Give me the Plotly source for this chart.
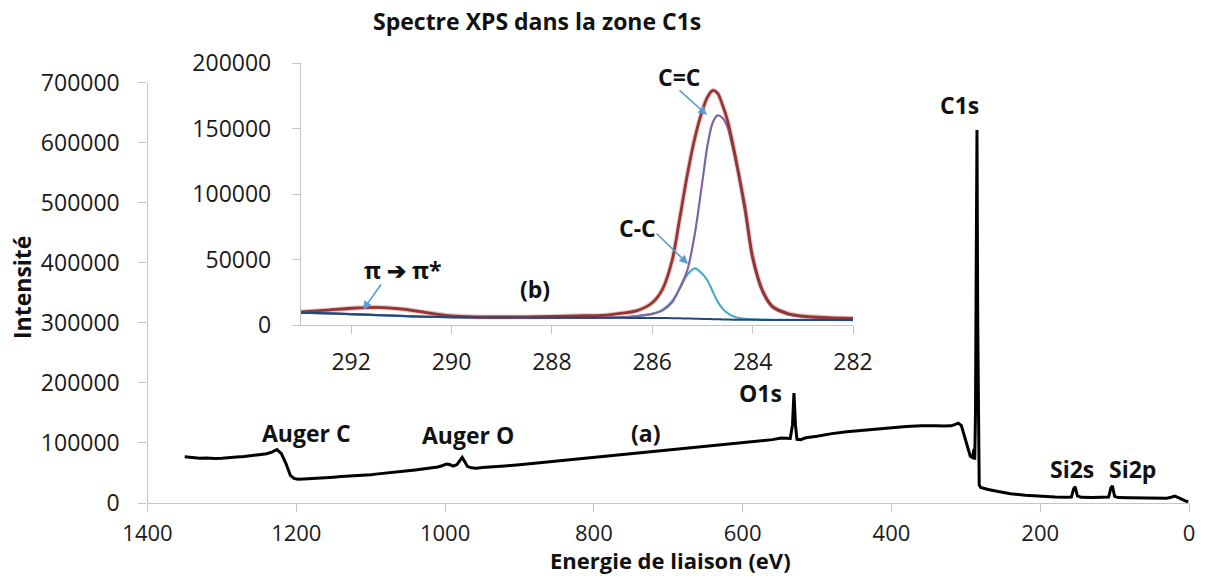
import plotly.graph_objects as go

# ---------------- Main survey spectrum (a) ----------------
survey_energy = [1350, 1340, 1330, 1320, 1310, 1300, 1290, 1280, 1270, 1260, 1250, 1240, 1232, 1226,
                 1220, 1214, 1208, 1203, 1198, 1190, 1180, 1170, 1160, 1150, 1140, 1130, 1120, 1110,
                 1100, 1090, 1080, 1070, 1060, 1050, 1040, 1030, 1020, 1010, 1004, 998, 994, 989, 984,
                 980, 977, 974, 970, 965, 958, 950, 940, 930, 920, 900, 880, 860, 840, 820, 800, 780,
                 760, 740, 720, 700, 680, 660, 640, 620, 600, 580, 560, 548, 541, 536, 533, 531, 529,
                 527, 522, 515, 500, 480, 460, 440, 420, 400, 380, 360, 350, 340, 330, 320, 315, 310,
                 306, 302, 298, 294, 291, 289, 288, 287, 286, 285, 284, 283, 282, 280, 276, 270, 260,
                 250, 240, 220, 200, 180, 165, 158, 155, 153, 150, 145, 130, 115, 108, 105, 103, 100,
                 95, 80, 60, 40, 30, 24, 19, 15, 10, 5, 1]
survey_intensity = [77000, 75500, 74500, 75000, 74000, 74500, 75000, 76500, 77500, 78500, 80500, 82000,
                    85000, 89000, 82000, 66000, 46000, 41000, 39500, 40000, 40500, 41500, 42000, 43000,
                    44000, 44500, 45500, 46500, 47000, 48500, 49500, 51000, 52000, 53500, 55000, 56500,
                    58000, 60000, 62000, 65000, 64000, 61500, 64000, 71000, 76000, 70000, 61000, 58500,
                    58000, 59000, 59500, 60500, 61500, 63500, 66000, 68000, 70500, 72500, 75000, 77500,
                    80000, 82500, 85000, 87500, 90000, 92500, 95500, 98000, 100500, 103000, 105500,
                    108000, 107000, 107500, 130000, 183000, 130000, 106000, 105500, 108500, 111000,
                    115500, 118500, 121000, 123500, 126000, 127500, 128500, 129000, 128500, 128000,
                    128500, 130500, 133000, 129000, 112000, 92000, 78000, 76000, 90000, 72000, 150000,
                    400000, 621000, 300000, 60000, 30000, 26000, 24500, 22500, 20000, 17500, 15500,
                    13000, 11000, 10000, 9500, 10000, 24000, 27000, 12000, 9500, 9200, 9000, 10000,
                    25000, 28500, 11000, 9000, 8800, 8500, 8000, 8000, 9500, 11500, 9500, 6000, 3500,
                    2000]

# ---------------- Inset: C1s high-resolution region (b) ----------------
c1s_energy = [293.0, 292.5, 292.0, 291.5, 291.0, 290.5, 290.0, 289.5, 289.0, 288.5, 288.0, 287.5,
              287.0, 286.6, 286.3, 286.0, 285.8, 285.6, 285.45, 285.3, 285.15, 285.0, 284.9, 284.8,
              284.7, 284.6, 284.5, 284.4, 284.3, 284.15, 284.0, 283.8, 283.6, 283.3, 283.0, 282.5,
              282.0]
c1s_envelope = [10000, 11300, 12800, 13500, 12300, 9500, 7000, 6200, 6100, 6200, 6500, 7000,
                7300, 9000, 11000, 17000, 27000, 50000, 82000, 115000, 143000, 164000, 174000, 179000,
                177000, 168000, 156000, 139000, 120000, 89000, 52000, 26000, 14000, 8800, 6800, 5600,
                5000]
c1s_cc_double = [9400, 8900, 8300, 7600, 6900, 6300, 6000, 5800, 5700, 5650, 5600, 5550,
                 5500, 5800, 6800, 8500, 11000, 17500, 28500, 42000, 70000, 110000, 137000, 154000,
                 160000, 158000, 151000, 136000, 118000, 86000, 50000, 25000, 13200, 8000, 6200, 5200,
                 4600]
c1s_cc_single = [9400, 8900, 8300, 7600, 6900, 6300, 6000, 5800, 5700, 5650, 5600, 5550,
                 5500, 5900, 6800, 8500, 11500, 18500, 28000, 38500, 43300, 39000, 34000, 26000,
                 18000, 12500, 9000, 6800, 5500, 4700, 4300, 4100, 4000, 3900, 3850, 3800,
                 3700]
c1s_background = [9400, 8900, 8300, 7600, 6900, 6300, 6000, 5800, 5700, 5650, 5600, 5550,
                  5500, 5450, 5400, 5350, 5300, 5200, 5100, 4950, 4800, 4650, 4550, 4450,
                  4350, 4250, 4150, 4100, 4050, 4000, 3950, 3900, 3880, 3850, 3820, 3780,
                  3750]
pi_energy = [293.0, 292.5, 292.0, 291.5, 291.0, 290.5, 290.0, 289.5, 289.0, 288.5]
pi_shakeup = [9700, 10900, 12300, 13000, 11800, 9000, 6700, 5900, 5700, 5650]

survey_ticks = [1400, 1200, 1000, 800, 600, 400, 200, 0]
inset_ticks = [292, 290, 288, 286, 284, 282]

W, H = 1205, 576
FONT = "Open Sans"
AXIS_GREY = "#C4C4C4"


def px(x):
    return x / W


def py(y):
    return 1 - y / H


fig = go.Figure()

fig.add_trace(go.Scatter(x=survey_energy, y=survey_intensity, mode="lines",
                         line=dict(color="#000000", width=3), xaxis="x", yaxis="y",
                         showlegend=False, hoverinfo="skip"))

inset_traces = [
    (c1s_energy, c1s_cc_single, "#4BACC6", 2.2),
    (c1s_energy, c1s_cc_double, "#8064A2", 2.2),
    (pi_energy, pi_shakeup, "#F79646", 1.8),
    (c1s_energy, c1s_envelope, "rgba(192,80,77,0.3)", 5),
    (c1s_energy, c1s_envelope, "#943634", 2.8),
    (c1s_energy, c1s_background, "#1F497D", 2.0),
]
for xs, ys, col, w in inset_traces:
    fig.add_trace(go.Scatter(x=xs, y=ys, mode="lines",
                             line=dict(color=col, width=w, shape="spline", smoothing=0.8),
                             xaxis="x2", yaxis="y2", showlegend=False, hoverinfo="skip"))

tick_font = dict(family=FONT, size=23, color="#1a1a1a")
axis_common = dict(showgrid=False, zeroline=False, showline=True, linecolor=AXIS_GREY, linewidth=1.3,
                   ticks="outside", ticklen=8, tickcolor=AXIS_GREY, tickwidth=1.3,
                   automargin=False)

fig.update_layout(
    width=W, height=H,
    margin=dict(l=0, r=0, t=0, b=0),
    paper_bgcolor="white", plot_bgcolor="rgba(0,0,0,0)",
    xaxis=dict(domain=[px(147.5), px(1189)], range=[1400, 0], tickmode="array",
               tickvals=survey_ticks, ticktext=[str(v) for v in survey_ticks],
               tickfont=dict(family=FONT, size=22, color="#1a1a1a"),
               ticklabelstandoff=2, anchor="y", **axis_common),
    yaxis=dict(domain=[py(503), py(82.5)], range=[0, 700000], dtick=100000, tickformat="d",
               tickfont=tick_font, ticklabelstandoff=14, anchor="x", **axis_common),
    xaxis2=dict(domain=[px(301), px(853)], range=[293, 282], tickmode="array",
                tickvals=inset_ticks, ticktext=[str(v) for v in inset_ticks],
                tickfont=tick_font, ticklabelstandoff=8, anchor="y2", **axis_common),
    yaxis2=dict(domain=[py(325), py(63)], range=[0, 200000], dtick=50000, tickformat="d",
                tickfont=tick_font, ticklabelstandoff=16, anchor="x2", **axis_common),
)

labels = [
    ("Spectre XPS dans la zone C1s", 537, 21, 23),
    ("C1s", 960, 105, 23),
    ("O1s", 760, 393, 23),
    ("Auger C", 306, 433, 23),
    ("Auger O", 468, 435, 23),
    ("(a)", 645, 433, 23),
    ("Si2s", 1072, 469, 23),
    ("Si2p", 1132, 469, 23),
    ("C=C", 679, 77, 23),
    ("C-C", 637, 228, 23),
    ("π ➔ π*", 402, 270, 23),
    ("(b)", 535, 289, 23),
]
for text, x, y, size in labels:
    fig.add_annotation(text=f"<b>{text}</b>", x=px(x), y=py(y), xref="paper", yref="paper",
                       showarrow=False, xanchor="center", yanchor="middle",
                       font=dict(family=FONT, size=size, color="#111111"))

fig.add_annotation(text="<b>Energie de liaison (eV)</b>", x=px(670), y=0, xref="paper", yref="paper",
                   showarrow=False, xanchor="center", yanchor="bottom", borderpad=0,
                   font=dict(family=FONT, size=22, color="#111111"))

fig.add_annotation(text="<b>Intensité</b>", x=px(22), y=py(288), xref="paper", yref="paper",
                   showarrow=False, textangle=-90, xanchor="center", yanchor="middle",
                   font=dict(family=FONT, size=23, color="#111111"))

arrows = [
    ((678, 89), (707, 115)),
    ((655, 232), (688, 264)),
    ((382, 283), (363, 310)),
]
for (tx, ty), (hx, hy) in arrows:
    fig.add_annotation(text="", x=px(hx), y=py(hy), xref="paper", yref="paper",
                       ax=tx - hx, ay=ty - hy, showarrow=True, arrowhead=2, arrowsize=1.1,
                       arrowwidth=1.6, arrowcolor="#5B9BD5", standoff=0, startstandoff=0)

fig.write_html("out.html", config={"displayModeBar": False},
               post_script="document.body.style.margin='0';document.body.style.padding='0';")
